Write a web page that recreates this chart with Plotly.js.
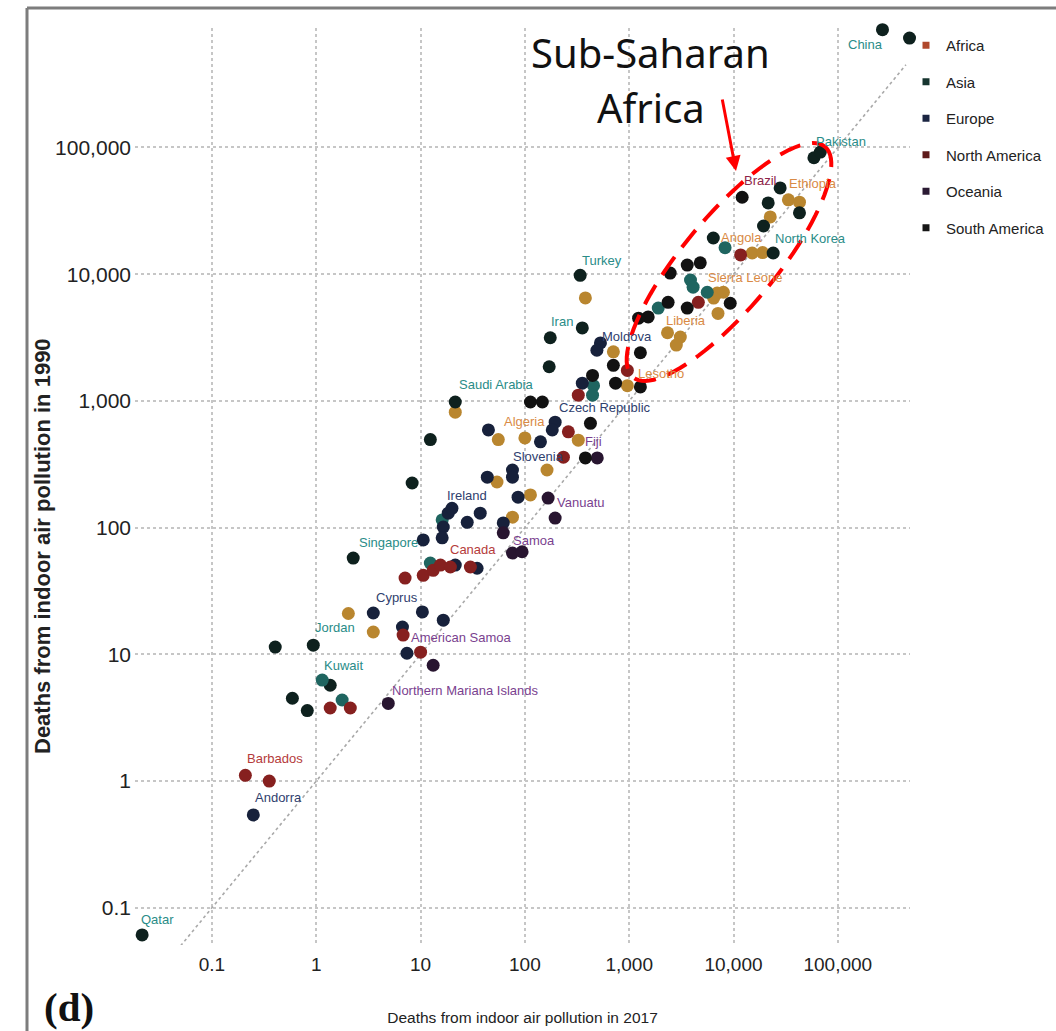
<!DOCTYPE html>
<html><head><meta charset="utf-8">
<script src="https://cdn.plot.ly/plotly-3.0.1.min.js"></script>
<style>html,body{margin:0;padding:0;background:#fff}#chart{width:1056px;height:1031px}</style>
</head><body><div id="chart"></div>
<script>
// ---------- DATA (deaths from indoor air pollution: 2017 on x, 1990 on y) ----------
const africaX = [33600, 42900, 22500, 15100, 19000, 6970, 8000, 7100, 6450, 2330, 3090, 2830, 705, 960, 380, 21.5, 55.6, 100, 325, 54, 163, 113, 76, 2.03, 3.52];
const africaY = [38600, 37000, 28300, 14700, 14800, 7100, 7200, 4900, 6480, 3450, 3190, 2760, 2440, 1320, 6500, 815, 495, 510, 490, 229, 285, 181, 121, 21, 15];

const asiaX = [268000, 487000, 59000, 68000, 28000, 21500, 42900, 19400, 24000, 6400, 339, 355, 175, 171, 21.5, 2.26, 0.936, 0.404, 0.59, 0.82, 1.36, 0.0214, 12.4, 8.3];
const asiaY = [850000, 730000, 83000, 92000, 48000, 36500, 30500, 24000, 14700, 19300, 9800, 3770, 3150, 1860, 980, 57.5, 11.8, 11.4, 4.5, 3.6, 5.7, 0.061, 495, 225];
const asiaTealX = [8300, 3870, 4100, 5600, 1900, 455, 445, 1.14, 1.77, 12.4, 16.1];
const asiaTealY = [16200, 9000, 7900, 7200, 5400, 1320, 1110, 6.26, 4.36, 52.5, 115];

const europeX = [530, 490, 355, 195, 76, 18.4, 20, 16.5, 37.3, 3.52, 0.249, 183, 141, 44.7, 76, 43.6, 86, 62, 28, 10.6, 16.1, 6.7, 7.4, 10.4, 16.5, 34.8, 21.5];
const europeY = [2870, 2510, 1380, 680, 285, 130, 142, 101, 130, 21.2, 0.54, 590, 475, 590, 250, 250, 174, 109, 110, 80, 83, 16.4, 10.2, 21.6, 18.6, 47.8, 50.6];

const northAmericaX = [0.209, 0.354, 1.36, 2.12, 7.1, 10.6, 13.2, 15.5, 19.3, 30, 6.8, 10, 11700, 4600, 960, 261, 325, 234];
const northAmericaY = [1.11, 1.0, 3.77, 3.77, 40, 42, 46, 50.6, 48.9, 48.9, 14.2, 10.4, 14200, 6000, 1740, 570, 1110, 360];

const oceaniaX = [494, 167, 76, 94, 4.9, 13.2, 62, 195];
const oceaniaY = [355, 171, 63, 64.5, 4.1, 8.2, 91, 119];

const southAmericaX = [12100, 9300, 3600, 4800, 2470, 2360, 3600, 1520, 1230, 1280, 1280, 705, 445, 740, 113, 147, 425, 380];
const southAmericaY = [40500, 5900, 11800, 12300, 10200, 6000, 5400, 4600, 4500, 2400, 1290, 1910, 1590, 1380, 980, 980, 665, 355];

const regions = ["Africa", "Asia", "Europe", "North America", "Oceania", "South America"];

const labelText = ["China","Pakistan","Brazil","Ethiopia","North Korea","Angola","Sierra Leone","Liberia","Moldova","Lesotho","Turkey","Iran","Saudi Arabia","Czech Republic","Algeria","Fiji","Slovenia","Ireland","Vanuatu","Samoa","Canada","Singapore","Cyprus","American Samoa","Jordan","Kuwait","Northern Mariana Islands","Barbados","Andorra","Qatar"];
const labelRegion = ["Asia","Asia","South America","Africa","Asia","Africa","Africa","Africa","Europe","Africa","Asia","Asia","Asia","Europe","Africa","Oceania","Europe","Europe","Oceania","Oceania","North America","Asia","Europe","Oceania","Asia","Asia","Oceania","North America","Europe","Asia"];
const labelX = [268000, 59000, 12100, 28000, 24000, 6400, 8000, 3090, 530, 960, 339, 175, 21.5, 195, 100, 494, 76, 18.4, 167, 76, 30, 2.26, 3.52, 6.8, 0.936, 1.14, 4.9, 0.209, 0.249, 0.0214];
const labelY = [850000, 83000, 40500, 48000, 14700, 19300, 7200, 3190, 2870, 1320, 9800, 3150, 980, 680, 510, 355, 285, 130, 171, 63, 48.9, 57.5, 21.2, 14.2, 11.8, 6.26, 4.1, 1.11, 0.54, 0.061];

const tickVals = [0.1, 1, 10, 100, 1000, 10000, 100000];
const tickText = ["0.1", "1", "10", "100", "1,000", "10,000", "100,000"];
const refLine = [0.05, 450000];
const xTitle = "Deaths from indoor air pollution in 2017";
const yTitle = "Deaths from indoor air pollution in 1990";

// ---------- STYLE / LAYOUT ----------
const W = 1056, H = 1031;
const M = {l: 135, r: 146, t: 28, b: 86, autoexpand: false};
const PW = W - M.l - M.r, PH = H - M.t - M.b;
const SANS = "Liberation Sans, Arial, sans-serif";

const pointColor = {
  "Africa": "#b9862f", "Asia": "#0e211e", "AsiaTeal": "#1f6560", "Europe": "#17213b",
  "North America": "#86201f", "Oceania": "#281530", "South America": "#121212"
};
const legendColor = {
  "Africa": "#b0482c", "Asia": "#16352f", "Europe": "#1b2542",
  "North America": "#5e1a1a", "Oceania": "#2b1a33", "South America": "#161616"
};
const labelColor = {
  "Africa": "#d98a45", "Asia": "#2a8c88", "Europe": "#2f406e",
  "North America": "#b53b3b", "Oceania": "#7a3f8f", "South America": "#8e2348"
};
// label centre offset from its point, in pixels (dx right, dy down)
const labelShift = [[-17,15],[27,-16],[18,-17],[33,-4],[37,-15],[28,-1],[22,-15],[6,-17],[27,-6],[34,-12],[22,-15],[12,-16],[41,-18],[50,-15],[0,-16],[-4,-16],[26,-13],[19,-18],[32,4],[22,-13],[3,-17],[35,-16],[24,-15],[58,2],[22,-18],[21,-15],[77,-13],[30,-17],[25,-17],[15,-15]];

function pts(name, xs, ys, color) {
  return {type: "scatter", mode: "markers", x: xs, y: ys, name: name, legendgroup: name,
    showlegend: false, cliponaxis: false, hoverinfo: "x+y+name",
    marker: {color: color, size: 13, line: {width: 0}}};
}
const traces = [
  {type: "scatter", mode: "lines", x: refLine, y: refLine, showlegend: false, hoverinfo: "skip",
   line: {color: "#a9a9a9", width: 1.6, dash: "dot"}},
  pts("Africa", africaX, africaY, pointColor["Africa"]),
  pts("Asia", asiaX, asiaY, pointColor["Asia"]),
  pts("Asia", asiaTealX, asiaTealY, pointColor["AsiaTeal"]),
  pts("Europe", europeX, europeY, pointColor["Europe"]),
  pts("North America", northAmericaX, northAmericaY, pointColor["North America"]),
  pts("Oceania", oceaniaX, oceaniaY, pointColor["Oceania"]),
  pts("South America", southAmericaX, southAmericaY, pointColor["South America"])
];
regions.forEach(r => traces.push({type: "scatter", mode: "markers", x: [null], y: [null], name: r,
  legendgroup: r, showlegend: true, marker: {symbol: "square", size: 7, color: legendColor[r]}}));

const annotations = labelText.map((t, i) => ({
  x: Math.log10(labelX[i]), y: Math.log10(labelY[i]), xref: "x", yref: "y",
  text: t, showarrow: false, xanchor: "center", yanchor: "middle",
  xshift: labelShift[i][0], yshift: -labelShift[i][1],
  font: {family: SANS, size: 13, color: labelColor[labelRegion[i]]}
}));
const px = (x) => (x - M.l) / PW;
const py = (y) => (H - M.b - y) / PH;
annotations.push(
  {xref: "paper", yref: "paper", x: px(650), y: py(53), text: "Sub-Saharan", showarrow: false,
   xanchor: "center", yanchor: "middle", font: {family: "Noto Sans, Open Sans, sans-serif", size: 40, color: "#111"}},
  {xref: "paper", yref: "paper", x: px(651), y: py(107), text: "Africa", showarrow: false,
   xanchor: "center", yanchor: "middle", font: {family: "Noto Sans, Open Sans, sans-serif", size: 40, color: "#111"}},
  {xref: "paper", yref: "paper", x: px(736), y: py(171), text: "", showarrow: true,
   ax: -14, ay: -73, arrowcolor: "#ff0000", arrowwidth: 3, arrowhead: 2, arrowsize: 1},
  {xref: "paper", yref: "paper", x: px(69), y: py(1007), text: "<b>(d)</b>", showarrow: false,
   xanchor: "center", yanchor: "middle", font: {family: "Liberation Serif, DejaVu Serif, serif", size: 41, color: "#111"}},
  {xref: "paper", yref: "paper", x: px(42), y: py(546), text: "<b>" + yTitle + "</b>", showarrow: false,
   textangle: -90, xanchor: "center", yanchor: "middle", font: {family: SANS, size: 22, color: "#222"}}
);

// dashed ellipse around the Sub-Saharan cluster (pixel geometry -> paper)
const ell = {cx: 729, cy: 262, a: 150, b: 46, th: Math.atan2(-228, 190)};
let path = "";
for (let k = 0; k <= 96; k++) {
  const t = 2 * Math.PI * k / 96;
  const sx = ell.cx + ell.a * Math.cos(t) * Math.cos(ell.th) - ell.b * Math.sin(t) * Math.sin(ell.th);
  const sy = ell.cy + ell.a * Math.cos(t) * Math.sin(ell.th) + ell.b * Math.sin(t) * Math.cos(ell.th);
  path += (k === 0 ? "M" : "L") + px(sx).toFixed(5) + "," + py(sy).toFixed(5);
}
path += "Z";

const shapes = [
  {type: "path", xref: "paper", yref: "paper", path: path, line: {color: "#ff0000", width: 4, dash: "22px,12px"}},
  {type: "line", xref: "paper", yref: "paper", x0: px(27), x1: px(1060), y0: py(8), y1: py(8), line: {color: "#7d7d7d", width: 3}},
  {type: "line", xref: "paper", yref: "paper", x0: px(27), x1: px(27), y0: py(8), y1: py(1035), line: {color: "#7d7d7d", width: 3}}
];

const axisCommon = {type: "log", tickvals: tickVals, ticktext: tickText, showgrid: true,
  gridcolor: "#c6c6c6", gridwidth: 2, griddash: "dot", zeroline: false, showline: false,
  ticks: "", automargin: false, color: "#222"};

const layout = {
  width: W, height: H, margin: M, paper_bgcolor: "#fff", plot_bgcolor: "#fff",
  showlegend: true,
  xaxis: Object.assign({}, axisCommon, {range: [-1.738, 5.692],
    tickfont: {family: SANS, size: 19, color: "#222"}, ticklabelstandoff: 6,
    title: {text: xTitle, standoff: 38,
      font: {family: SANS, size: 15.5, color: "#222"}}}),
  yaxis: Object.assign({}, axisCommon, {range: [-1.294, 5.943],
    tickfont: {family: SANS, size: 21, color: "#222"}, ticklabelstandoff: 3}),
  legend: {x: px(906), y: py(29), xanchor: "left", yanchor: "top", bgcolor: "rgba(0,0,0,0)",
    tracegroupgap: 14, font: {family: SANS, size: 15, color: "#222"}, traceorder: "grouped"},
  annotations: annotations, shapes: shapes, hovermode: "closest"
};

Plotly.newPlot("chart", traces, layout, {displayModeBar: false, responsive: false});
</script>
</body></html>
